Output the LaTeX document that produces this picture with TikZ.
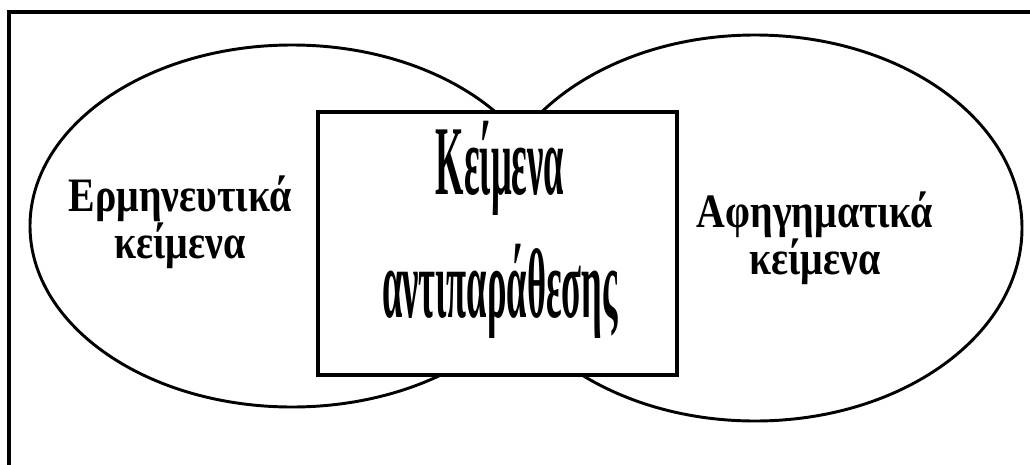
\documentclass[tikz,border=0pt]{standalone}
\usepackage{fontspec}
\setmainfont{Liberation Serif}
\newfontfamily\sidefont[FakeStretch=0.83]{Liberation Serif}
\newfontfamily\tallfont[FakeStretch=0.37]{Liberation Serif}
\usetikzlibrary{shapes.geometric}
\tikzset{
  frm/.style  = {line width=3pt},
  ring/.style = {draw, ellipse, line width=2.2pt, inner sep=0pt},
  cbox/.style = {draw, fill=white, line width=3pt, inner sep=0pt,
                 minimum width=269.25pt, minimum height=197.25pt},
  lbl/.style  = {font=\sidefont\bfseries\fontsize{36}{30}\selectfont,
                 align=center, inner sep=0pt},
  tlbl/.style = {font=\tallfont\bfseries\fontsize{74}{92}\selectfont,
                 align=center, inner sep=0pt},
}

\begin{document}
\begin{tikzpicture}[x=0.75pt,y=-0.75pt]
  \useasboundingbox (0,0) rectangle (1030,464);
  \draw[frm] (9,12) rectangle (1045,480);
  \node[ring, minimum width=393pt, minimum height=271.5pt] (lring) at (292,226) {};
  \node[ring, minimum width=400.5pt, minimum height=289.5pt] (rring) at (755,228) {};
  \node[cbox] (mid) at (497.5,243.5) {};
  \node[lbl] (ltxt) at (180,222) {Ερμηνευτικά\\κείμενα};
  \node[lbl] (rtxt) at (815,238) {Αφηγηματικά\\κείμενα};
  \node[tlbl] (mtxt) at (500,230) {Κείμενα\\αντιπαράθεσης};
\end{tikzpicture}
\end{document}
